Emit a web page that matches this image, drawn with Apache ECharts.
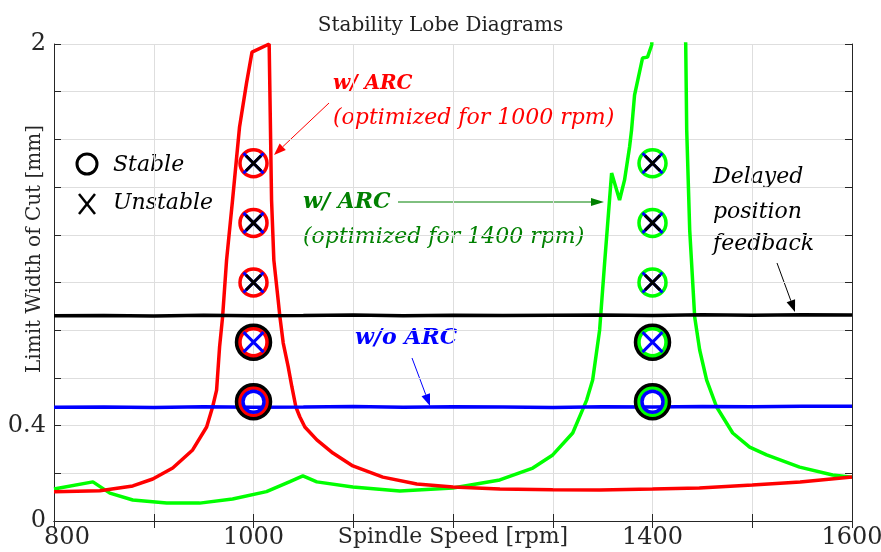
<!DOCTYPE html>
<html>
<head>
<meta charset="utf-8">
<title>Stability Lobe Diagrams</title>
<script src="https://cdn.jsdelivr.net/npm/echarts@6/dist/echarts.min.js"></script>
<style>
  html, body { margin: 0; padding: 0; background: #fff; }
  #chart { width: 881px; height: 552px; }
</style>
</head>
<body>
<div id="chart"></div>
<script>
// spindle speed [rpm] vs limit width of cut [mm]
const redSpeed = [800, 846, 879, 899, 919, 939, 953, 959, 963, 966,
  969, 973, 979, 986, 993, 998.5, 1015.7, 1018.1, 1020.4, 1024.7,
  1026.5, 1029.8, 1034.8, 1038.5, 1042.5, 1046.5, 1051.5, 1063.5, 1079.6, 1099.6,
  1129.7, 1163.7, 1200, 1247, 1300, 1347, 1400, 1447, 1500, 1548, 1600];
const redWidth = [0.123, 0.127, 0.147, 0.176, 0.222, 0.298, 0.394, 0.478, 0.549, 0.730,
  0.855, 1.094, 1.346, 1.652, 1.836, 1.966, 2.0, 1.346, 1.094, 0.927,
  0.855, 0.746, 0.646, 0.562, 0.478, 0.436, 0.394, 0.340, 0.285, 0.231,
  0.184, 0.155, 0.143, 0.134, 0.131, 0.130, 0.134, 0.138, 0.151, 0.164, 0.184];

const greenSpeed = [800, 839, 856, 879, 913, 946, 979, 1013, 1036.5, 1049.5,
  1063.5, 1099.6, 1146.7, 1199.8, 1246.9, 1280, 1300, 1320, 1334, 1340,
  1347, 1352, 1359, 1367, 1372, 1377, 1379, 1382, 1390, 1395,
  1399.2, 1400.5, 1432, 1433.3, 1434.3, 1437.3, 1442.3, 1447.3, 1454.3, 1464.3,
  1480.4, 1497.4, 1514.4, 1547.5, 1580.6, 1600];
const greenWidth = [0.134, 0.164, 0.117, 0.088, 0.075, 0.075, 0.092, 0.123, 0.165, 0.189,
  0.164, 0.143, 0.126, 0.138, 0.172, 0.222, 0.277, 0.369, 0.507, 0.591,
  0.801, 1.082, 1.459, 1.346, 1.430, 1.568, 1.639, 1.786, 1.941, 1.945,
  1.996, 2.1, 2.1, 2.0, 1.639, 1.220, 0.855, 0.717, 0.591, 0.478,
  0.369, 0.310, 0.277, 0.226, 0.193, 0.184];

const flatSpeed = [800, 850, 900, 950, 1000, 1050, 1100, 1150, 1200,
  1250, 1300, 1350, 1400, 1450, 1500, 1550, 1600];
const noArcWidth = [0.477, 0.478, 0.476, 0.479, 0.477, 0.478, 0.480, 0.477, 0.479,
  0.478, 0.476, 0.479, 0.478, 0.480, 0.479, 0.481, 0.481];
const delayedWidth = [0.861, 0.862, 0.860, 0.863, 0.861, 0.862, 0.864, 0.861, 0.863,
  0.862, 0.863, 0.864, 0.862, 0.865, 0.863, 0.865, 0.864];

// cutting tests
const testSpeeds = [1000, 1400];
const noArcStable = [0.5];
const noArcUnstable = [0.75, 1.0, 1.25, 1.5];
const delayedStable = [0.5, 0.75];
const delayedUnstable = [1.0, 1.25, 1.5];
const arc1000Stable = [0.5, 0.75, 1.0, 1.25, 1.5];
const arc1400Stable = [0.5, 0.75, 1.0, 1.25, 1.5];

const xTickLabels = [800, 1000, 1400, 1600];
const yTickLabels = [0, 0.4, 2];

const FONT = '"DejaVu Serif", serif';
const AXIS = '#262626';
const GREEN_TXT = '#008000';
const X_PATH = 'path://M0,0L10,10M10,0L0,10';

function zip(xs, ys) { return xs.map((x, i) => [x, ys[i]]); }
function pts(speeds, widths) { return speeds.flatMap(s => widths.map(w => [s, w])); }

function lobe(data, color, w) {
  return { type: 'line', data: data, showSymbol: false, z: 2, silent: true,
    lineStyle: { color: color, width: w }, emphasis: { disabled: true } };
}
function marks(data, symbol, size, color, bw, z) {
  return { type: 'scatter', data: data, symbol: symbol, symbolSize: size, z: z, silent: true,
    itemStyle: { color: 'transparent', borderColor: color, borderWidth: bw, opacity: 1 },
    emphasis: { disabled: true } };
}

function arrow(x1, y1, x2, y2, color, len, half) {
  const a = Math.atan2(y2 - y1, x2 - x1);
  const bx = x2 - len * Math.cos(a), by = y2 - len * Math.sin(a);
  const px = -Math.sin(a) * half, py = Math.cos(a) * half;
  return [
    { type: 'line', silent: true, shape: { x1: x1, y1: y1, x2: bx, y2: by },
      style: { stroke: color, lineWidth: 1 } },
    { type: 'polygon', silent: true, shape: { points: [[x2, y2], [bx + px, by + py], [bx - px, by - py]] },
      style: { fill: color } }
  ];
}
function note(x, y, text, color, bold, size) {
  return { type: 'text', x: x, y: y, silent: true,
    style: { text: text, fill: color, font: 'italic ' + (bold ? 'bold ' : '') + (size || 22) + 'px ' + FONT,
      textAlign: 'left', textVerticalAlign: 'middle' } };
}

const chart = echarts.init(document.getElementById('chart'));

const baseX = { type: 'value', min: 800, max: 1600, interval: 100 };
const baseY = { type: 'value', min: 0, max: 2, interval: 0.2 };

chart.setOption({
  animation: false,
  backgroundColor: '#fff',
  title: {
    text: 'Stability Lobe Diagrams', left: 'center', top: 11,
    textStyle: { fontFamily: FONT, fontSize: 20, fontWeight: 'normal', color: '#222' }
  },
  grid: { left: 54, right: 29, top: 44, bottom: 31, containLabel: false, outerBoundsMode: 'none' },
  xAxis: [
    Object.assign({}, baseX, {
      position: 'bottom',
      name: 'Spindle Speed [rpm]', nameLocation: 'middle', nameGap: 5, nameMoveOverlap: false,
      nameTextStyle: { fontFamily: FONT, fontSize: 22, color: AXIS },
      axisLine: { lineStyle: { color: AXIS } },
      axisTick: { inside: true, length: 7, lineStyle: { color: AXIS } },
      splitLine: { show: true, lineStyle: { color: '#dedede' } },
      axisLabel: {
        margin: 5, fontFamily: FONT, fontSize: 24, color: AXIS,
        formatter: v => xTickLabels.includes(v) ? (v === 800 ? '{first|800}' : String(v)) : '',
        rich: { first: { fontFamily: FONT, fontSize: 24, color: AXIS, padding: [0, 0, 0, 26] } }
      }
    }),
    Object.assign({}, baseX, {
      position: 'top',
      axisLine: { lineStyle: { color: AXIS } },
      axisTick: { inside: true, length: 7, lineStyle: { color: AXIS } },
      axisLabel: { show: false }, splitLine: { show: false }
    })
  ],
  yAxis: [
    Object.assign({}, baseY, {
      position: 'left',
      axisLine: { show: true, lineStyle: { color: AXIS } },
      axisTick: { show: true, inside: true, length: 7, lineStyle: { color: AXIS } },
      splitLine: { show: true, lineStyle: { color: '#dedede' } },
      axisLabel: {
        margin: 8, fontFamily: FONT, fontSize: 24, color: AXIS,
        formatter: v => yTickLabels.some(t => Math.abs(t - v) < 1e-6) ? String(+v.toFixed(1)) : ''
      }
    }),
    Object.assign({}, baseY, {
      position: 'right',
      axisLine: { show: true, lineStyle: { color: AXIS } },
      axisTick: { show: true, inside: true, length: 7, lineStyle: { color: AXIS } },
      axisLabel: { show: false }, splitLine: { show: false }
    })
  ],
  series: [
    lobe(zip(greenSpeed, greenWidth), '#00ff00', 3.5),
    lobe(zip(redSpeed, redWidth), '#ff0000', 3.5),
    lobe(zip(flatSpeed, noArcWidth), '#0000ff', 3.5),
    lobe(zip(flatSpeed, delayedWidth), '#000000', 3.5),
    marks(pts(testSpeeds, delayedStable), 'circle', 33, '#000000', 4.5, 3),
    marks(pts([1000], arc1000Stable), 'circle', 27, '#ff0000', 3.5, 4),
    marks(pts([1400], arc1400Stable), 'circle', 27, '#00ff00', 3.5, 4),
    marks(pts(testSpeeds, noArcStable), 'circle', 21, '#0000ff', 3.5, 5),
    marks(pts(testSpeeds, noArcUnstable), X_PATH, 20, '#0000ff', 3, 5),
    marks(pts(testSpeeds, delayedUnstable), X_PATH, 15, '#000000', 3, 6)
  ],
  graphic: [
    { type: 'text', x: 35, y: 249, rotation: Math.PI / 2, silent: true,
      style: { text: 'Limit Width of Cut [mm]', fill: AXIS, font: '20px ' + FONT,
        textAlign: 'center', textVerticalAlign: 'middle' } },
    // legend
    { type: 'circle', silent: true, shape: { cx: 87, cy: 164, r: 10 },
      style: { fill: 'none', stroke: '#000', lineWidth: 3 } },
    { type: 'line', silent: true, shape: { x1: 79, y1: 194, x2: 95, y2: 214 },
      style: { stroke: '#000', lineWidth: 2.5 } },
    { type: 'line', silent: true, shape: { x1: 95, y1: 194, x2: 79, y2: 214 },
      style: { stroke: '#000', lineWidth: 2.5 } },
    note(113, 165, 'Stable', '#000', false),
    note(113, 203, 'Unstable', '#000', false),
    // annotations
    note(333, 84, 'w/ ARC', '#ff0000', true, 20),
    note(333, 118, '(optimized for 1000 rpm)', '#ff0000', false),
    ...arrow(329, 103, 274, 155, '#ff0000', 12, 4.5),
    note(303, 202, 'w/ ARC', GREEN_TXT, true),
    note(303, 237, '(optimized for 1400 rpm)', GREEN_TXT, false),
    ...arrow(398, 202, 604, 202, GREEN_TXT, 13, 4),
    note(713, 177, 'Delayed', '#000', false),
    note(713, 212, 'position', '#000', false),
    note(713, 244, 'feedback', '#000', false),
    ...arrow(777, 263, 795, 312, '#000', 12, 4.5),
    note(355, 338, 'w/o ARC', '#0000ff', true),
    ...arrow(412, 358, 430, 406, '#0000ff', 12, 4.5)
  ]
});
</script>
</body>
</html>
